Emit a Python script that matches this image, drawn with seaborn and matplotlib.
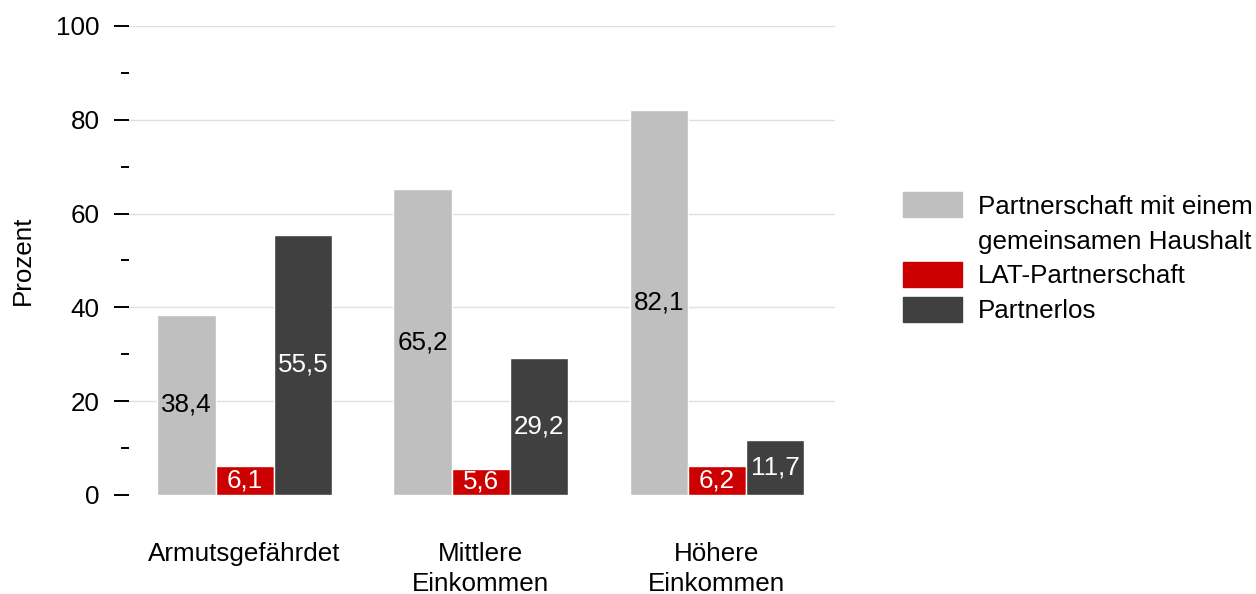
import seaborn as sns
import matplotlib.pyplot as plt
import pandas as pd
from matplotlib.patches import Patch
from matplotlib.ticker import MultipleLocator

# Werte aus der Grafik
kategorien = ['Armutsgefährdet', 'Mittlere\nEinkommen', 'Höhere\nEinkommen']
gruppen = ['Partnerschaft mit einem gemeinsamen Haushalt', 'LAT-Partnerschaft', 'Partnerlos']
gemeinsam = [38.4, 65.2, 82.1]
lat = [6.1, 5.6, 6.2]
partnerlos = [55.5, 29.2, 11.7]
farben = ['#bfbfbf', '#cc0000', '#404040']
label_farben = ['black', 'white', 'white']
y_ticks = [0, 20, 40, 60, 80, 100]

df = pd.DataFrame({
    'kategorie': kategorien * 3,
    'gruppe': [gruppen[0]] * 3 + [gruppen[1]] * 3 + [gruppen[2]] * 3,
    'wert': gemeinsam + lat + partnerlos,
})

sns.set_style('white')
plt.rcParams['font.family'] = ['Liberation Sans', 'DejaVu Sans']
plt.rcParams['font.size'] = 18.7
for k in ['text.color', 'axes.labelcolor', 'xtick.color', 'ytick.color']:
    plt.rcParams[k] = 'black'

fs = 18.7

fig = plt.figure(figsize=(12.56, 5.94), dpi=100)
ax = fig.add_axes([0.1027, 0.1667, 0.5621, 0.7896])

# Hilfslinien (ohne Linie bei 0)
for y in y_ticks[1:]:
    ax.axhline(y, color='#e0e0e0', linewidth=1, zorder=0)

sns.barplot(data=df, x='kategorie', y='wert', hue='gruppe', order=kategorien,
            hue_order=gruppen, palette=farben, width=0.74, edgecolor='white',
            linewidth=1, saturation=1, errorbar=None, ax=ax, legend=False, zorder=3)

# Beschriftungen in den Balken
for cont, col in zip(ax.containers, label_farben):
    labels = [f'{b.get_height():.1f}'.replace('.', ',') for b in cont]
    ax.bar_label(cont, labels=labels, label_type='center', color=col, fontsize=fs)

ax.set_xlim(-0.49, 2.5)
ax.set_ylim(0, 100)
ax.set_yticks(y_ticks)
ax.yaxis.set_minor_locator(MultipleLocator(10))
ax.tick_params(axis='y', which='major', length=11, width=1.4, pad=10, color='black', left=True)
ax.tick_params(axis='y', which='minor', length=6, width=1.4, color='black', left=True)
ax.tick_params(axis='x', length=0, pad=34)
for t in ax.get_xticklabels():
    t.set_linespacing(1.3)
ax.grid(False)
sns.despine(ax=ax, left=True, bottom=True)

ax.set_xlabel('')
ax.set_ylabel('Prozent', fontsize=fs)
ax.yaxis.set_label_coords(-0.134, 0.5)

# Legende: zweite Zeile des ersten Eintrags als eigener Eintrag ohne Symbol
handles = [Patch(color=farben[0]), Patch(visible=False, color='white'),
           Patch(color=farben[1]), Patch(color=farben[2])]
labels = ['Partnerschaft mit einem', 'gemeinsamen Haushalt', gruppen[1], gruppen[2]]
ax.legend(handles, labels, loc='upper left', bbox_to_anchor=(0.719, 0.676),
          bbox_transform=fig.transFigure, frameon=False, fontsize=fs,
          borderpad=0, borderaxespad=0, handlelength=2.27, handleheight=1.1,
          handletextpad=0.62, labelspacing=0.33)

plt.savefig('out.png', dpi=100)
